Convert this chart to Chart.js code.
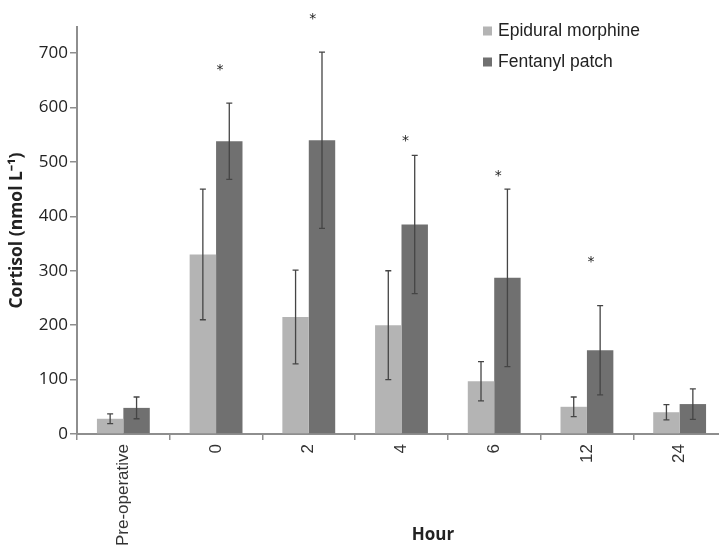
<!DOCTYPE html>
<html>
<head>
<meta charset="utf-8">
<script src="https://cdn.jsdelivr.net/npm/chart.js@4.4.0/dist/chart.umd.min.js"></script>
<style>
  html, body { margin: 0; padding: 0; background: #fff; overflow: hidden; }
  #wrap { width: 730px; height: 550px; }
</style>
</head>
<body>
<div id="wrap"><canvas id="cortisolChart"></canvas></div>
<script>
const horas = ["Pre-operative", "0", "2", "4", "6", "12", "24"];
const morfina = [28, 330, 215, 200, 97, 50, 40];
const morfinaErro = [9, 120, 86, 100, 36, 18, 14];
const fentanil = [48, 538, 540, 385, 287, 154, 55];
const fentanilErro = [20, 70, 162, 127, 163, 82, 28];
// asterisco acima de cada grupo (null = sem marca)
const asteriscos = [null, 676, 770, 546, 482, 324, null];
const yTicks = [0, 100, 200, 300, 400, 500, 600, 700];

const CINZA_CLARO = "#b4b4b4";
const CINZA_ESCURO = "#707070";

// barras de erro
const errorBars = {
    id: "errorBars",
    afterDatasetsDraw(chart) {
        const c = chart.ctx;
        const y = chart.scales.y;
        const erros = [morfinaErro, fentanilErro];
        c.save();
        c.strokeStyle = "#454545";
        c.lineWidth = 1.3;
        chart.data.datasets.forEach((ds, i) => {
            chart.getDatasetMeta(i).data.forEach((bar, j) => {
                const v = ds.data[j], e = erros[i][j];
                const top = y.getPixelForValue(v + e);
                const bot = y.getPixelForValue(v - e);
                c.beginPath();
                c.moveTo(bar.x, top); c.lineTo(bar.x, bot);
                c.moveTo(bar.x - 3, top); c.lineTo(bar.x + 3, top);
                c.moveTo(bar.x - 3, bot); c.lineTo(bar.x + 3, bot);
                c.stroke();
            });
        });
        c.restore();
    }
};

// asteriscos, legenda e titulo "Hour"
const extras = {
    id: "extras",
    afterDraw(chart) {
        const c = chart.ctx;
        const x = chart.scales.x, y = chart.scales.y;
        c.save();
        c.fillStyle = "#222";
        c.font = "14px 'DejaVu Sans'";
        c.textAlign = "center";
        c.textBaseline = "alphabetic";
        asteriscos.forEach((a, j) => {
            if (a === null) return;
            c.fillText("*", x.getPixelForValue(j) + 4, y.getPixelForValue(a) + 8);
        });

        c.textAlign = "left";
        c.textBaseline = "middle";
        c.font = "17.5px 'Liberation Sans'";
        chart.data.datasets.forEach((ds, i) => {
            const ly = 31 + i * 31;
            c.fillStyle = ds.backgroundColor;
            c.fillRect(483, ly - 4.5, 9, 9);
            c.fillStyle = "#222";
            c.fillText(ds.label, 498, ly);
        });

        c.textAlign = "center";
        c.font = "bold 17px 'Open Sans'";
        c.fillStyle = "#222";
        c.fillText("Hour", 433, 535);
        c.restore();
    }
};

new Chart(document.getElementById("cortisolChart"), {
    type: "bar",
    data: {
        labels: horas,
        datasets: [
            { label: "Epidural morphine", data: morfina, backgroundColor: CINZA_CLARO },
            { label: "Fentanyl patch", data: fentanil, backgroundColor: CINZA_ESCURO }
        ]
    },
    options: {
        responsive: true,
        maintainAspectRatio: false,
        animation: false,
        layout: { padding: { top: 27, right: 4, left: 0, bottom: 0 } },
        datasets: { bar: { barPercentage: 1, categoryPercentage: 0.57 } },
        plugins: { legend: { display: false }, tooltip: { enabled: false } },
        scales: {
            x: {
                grid: { offset: true, drawOnChartArea: false, color: "#8e8e8e", tickLength: 6, lineWidth: 1.5 },
                border: { color: "#8e8e8e", width: 2 },
                ticks: {
                    color: "#333", font: { family: "Liberation Sans", size: 17 },
                    minRotation: 90, maxRotation: 90, padding: 4, autoSkip: false
                },
                afterFit: s => { s.height = 116; }
            },
            y: {
                min: 0,
                max: 748,
                afterBuildTicks: s => { s.ticks = yTicks.map(v => ({ value: v })); },
                grid: { drawOnChartArea: false, color: "#8e8e8e", tickLength: 7, lineWidth: 1.5 },
                border: { color: "#8e8e8e", width: 2 },
                ticks: { color: "#222", font: { family: "Open Sans", size: 17 }, padding: 2 },
                title: {
                    display: true, text: "Cortisol (nmol L⁻¹)", color: "#222",
                    font: { family: "Open Sans", size: 17.5, weight: "bold" }, padding: { top: 7, bottom: 0 }
                },
                afterFit: s => { s.width = 77; }
            }
        }
    },
    plugins: [errorBars, extras]
});
</script>
</body>
</html>
